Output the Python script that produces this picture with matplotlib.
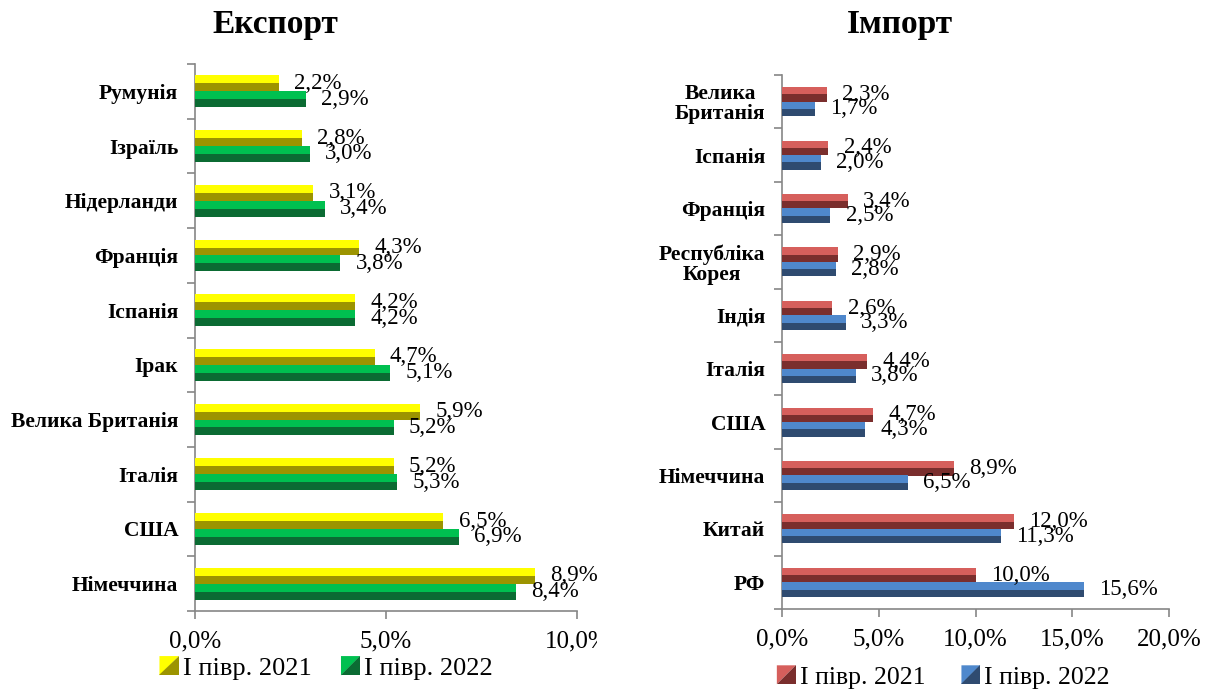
import matplotlib
matplotlib.use("Agg")
import matplotlib.pyplot as plt
from matplotlib.patches import Polygon, Rectangle
from matplotlib.legend_handler import HandlerBase
import numpy as np

plt.rcParams['font.family'] = ['Liberation Serif', 'DejaVu Serif']

# ---- data ----
exp_countries = ["Румунія", "Ізраїль", "Нідерланди", "Франція", "Іспанія", "Ірак",
                 "Велика Британія", "Італія", "США", "Німеччина"]
exp_2021 = [2.2, 2.8, 3.1, 4.3, 4.2, 4.7, 5.9, 5.2, 6.5, 8.9]
exp_2022 = [2.9, 3.0, 3.4, 3.8, 4.2, 5.1, 5.2, 5.3, 6.9, 8.4]

imp_countries = ["Велика\nБританія", "Іспанія", "Франція", "Республіка\nКорея", "Індія",
                 "Італія", "США", "Німеччина", "Китай", "РФ"]
imp_2021 = [2.3, 2.4, 3.4, 2.9, 2.6, 4.4, 4.7, 8.9, 12.0, 10.0]
imp_2022 = [1.7, 2.0, 2.5, 2.8, 3.3, 3.8, 4.3, 6.5, 11.3, 15.6]

series_labels = ["І півр. 2021", "І півр. 2022"]
exp_colors = [("#FFFF00", "#9C9400"), ("#00C050", "#0B6B33")]
imp_colors = [("#D65F5C", "#7A2E2D"), ("#4F88CC", "#2F4B70")]


def fmt(v):
    return f"{v:.1f}%".replace(".", ",")


class BevelHandler(HandlerBase):
    def __init__(self, light, dark):
        super().__init__()
        self.light, self.dark = light, dark

    def create_artists(self, legend, orig_handle, xdescent, ydescent, width, height, fontsize, trans):
        s = min(width, height)
        x0 = -xdescent + (width - s)
        y0 = -ydescent
        t1 = Polygon([[x0, y0 + s], [x0 + s, y0 + s], [x0, y0]], closed=True,
                     facecolor=self.light, edgecolor='none', transform=trans)
        t2 = Polygon([[x0 + s, y0 + s], [x0 + s, y0], [x0, y0]], closed=True,
                     facecolor=self.dark, edgecolor='none', transform=trans)
        return [t1, t2]


def draw_panel(ax, cats, v1, v2, colors, xmax, xstep, bh):
    n = len(cats)
    ypos = np.arange(n)[::-1].astype(float)
    for vals, (light, dark), sign in [(v1, colors[0], 1), (v2, colors[1], -1)]:
        yc = ypos + sign * bh / 2
        ax.barh(yc + bh / 4, vals, height=bh / 2, color=light, edgecolor='none', zorder=3)
        ax.barh(yc - bh / 4, vals, height=bh / 2, color=dark, edgecolor='none', zorder=3)
        for y, v in zip(yc, vals):
            ax.annotate(fmt(v), xy=(v, y), xytext=(11, 0), textcoords='offset points',
                        ha='left', va='center', fontsize=16.5, zorder=5, annotation_clip=False)
    ax.set_xlim(0, xmax)
    ax.set_ylim(-0.5, n - 0.5)
    ticks = np.arange(0, xmax + 0.001, xstep)
    ax.set_xticks(ticks)
    ax.set_xticklabels([fmt(t) for t in ticks], fontsize=18)
    ax.set_yticks(ypos)
    ax.set_yticklabels(cats, fontsize=15.5, fontweight='bold', multialignment='center',
                       linespacing=1.0)
    ax.set_yticks(np.arange(-0.5, n, 1.0), minor=True)
    ax.tick_params(axis='y', which='major', length=0, pad=12)
    ax.tick_params(axis='y', which='minor', length=6, color='#868686', width=1.2)
    ax.tick_params(axis='x', which='major', length=6, color='#868686', width=1.2, pad=8)
    for s in ['top', 'right']:
        ax.spines[s].set_visible(False)
    for s in ['left', 'bottom']:
        ax.spines[s].set_color('#868686')
        ax.spines[s].set_linewidth(1.2)


W, H = 1212, 693
fig = plt.figure(figsize=(W / 100, H / 100), dpi=100)

ax1 = fig.add_axes([195 / W, 1 - 611 / H, (577 - 195) / W, (611 - 64) / H])
ax2 = fig.add_axes([782 / W, 1 - 609 / H, (1169 - 782) / W, (609 - 75) / H])

draw_panel(ax1, exp_countries, exp_2021, exp_2022, exp_colors, 10, 5, 0.29)
draw_panel(ax2, imp_countries, imp_2021, imp_2022, imp_colors, 20, 5, 0.27)

fig.text(275 / W, 1 - 25 / H, "Експорт", ha='center', va='center', fontsize=24, fontweight='bold')
fig.text(900 / W, 1 - 25 / H, "Імпорт", ha='center', va='center', fontsize=24, fontweight='bold')

# legends
h1 = [Rectangle((0, 0), 1, 1), Rectangle((0, 0), 1, 1)]
fig.legend(h1, series_labels, loc='center', bbox_to_anchor=(326 / W, 1 - 668 / H),
           ncol=2, frameon=False, fontsize=19, handlelength=0.75, handleheight=0.75,
           handletextpad=0.15, columnspacing=1.1,
           handler_map={h1[0]: BevelHandler(*exp_colors[0]), h1[1]: BevelHandler(*exp_colors[1])})
h2 = [Rectangle((0, 0), 1, 1), Rectangle((0, 0), 1, 1)]
fig.legend(h2, series_labels, loc='center', bbox_to_anchor=(943 / W, 1 - 677 / H),
           ncol=2, frameon=False, fontsize=18.5, handlelength=0.75, handleheight=0.75,
           handletextpad=0.15, columnspacing=1.4,
           handler_map={h2[0]: BevelHandler(*imp_colors[0]), h2[1]: BevelHandler(*imp_colors[1])})

# clip the right edge of the left chart area
fig.add_artist(Rectangle((597 / W, 0), 40 / W, 1, transform=fig.transFigure,
                         facecolor='white', edgecolor='none', zorder=10))

fig.savefig("out.png", dpi=100, facecolor='white')
